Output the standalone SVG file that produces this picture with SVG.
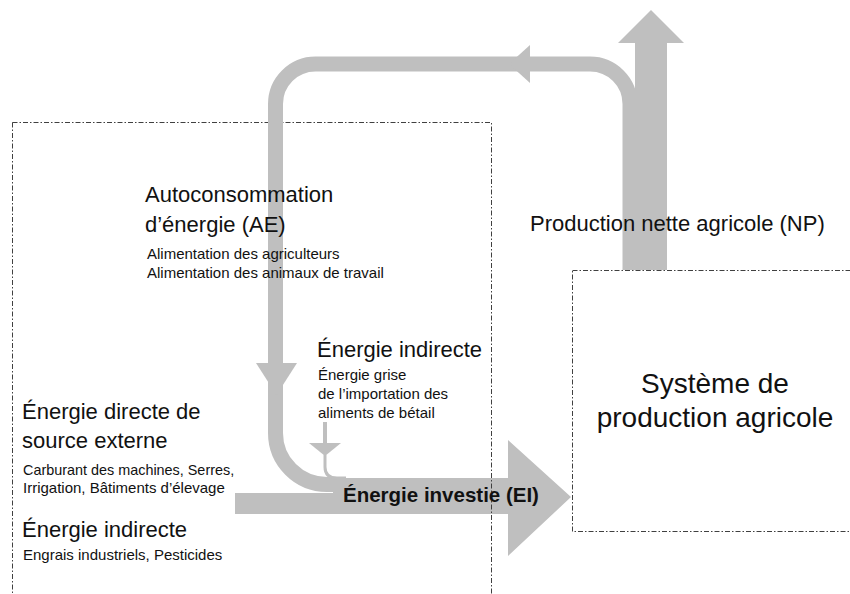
<svg xmlns="http://www.w3.org/2000/svg" width="850" height="594" viewBox="0 0 850 594">
<style>
.bg{fill:#fff}
.flow{fill:#bfbfbf}
.band{fill:none;stroke:#bfbfbf;stroke-width:15}
.thin{fill:none;stroke:#bfbfbf;stroke-width:3}
.box{fill:none;stroke:#404040;stroke-width:1;stroke-dasharray:5 2 1.5 2}
text{font-family:"Liberation Sans",Arial,sans-serif;fill:#111}
.t1{font-size:22px}
.t2{font-size:15px}
.t2n{font-size:14.4px}
.t3{font-size:28px}
.tb{font-size:20.5px;font-weight:bold}
</style>
<rect class="bg" x="0" y="0" width="850" height="594"/>
<g id="connectors">
  <path id="main-arrow" class="flow" d="M235,493 H333 V478 H508 V440 L571,497 L508,556 V514 H235 Z"/>
</g>
<g id="boxes">
  <rect id="farm-boundary" class="box" x="12.5" y="122.5" width="479" height="500"/>
  <rect id="systeme-box" class="box" x="572.5" y="270.5" width="300" height="261"/>
</g>
<g id="connectors-loop">
  <path id="loop" class="band" d="M630,270 V104 A40,40 0 0 0 590,64 H315.5 A40,40 0 0 0 275.5,104 V433 A51.5,51.5 0 0 0 327,484.5 H340"/>
  <polygon class="flow" points="530,45 530,83 509,64"/>
  <polygon class="flow" points="256,363 297,363 276.5,395"/>
  <path id="np-arrow" class="flow" d="M635,270 V43 H618 L651,10 L684,43 H667 V270 Z"/>
  <rect class="flow" x="323" y="422" width="4" height="22"/>
  <polygon class="flow" points="309,443 341,443 325,456"/>
  <path class="thin" d="M325,455 V467 Q325,478 337,478 H346"/>
</g>
<g id="node-ae">
  <text class="t1" x="145" y="202">Autoconsommation</text>
  <text class="t1" x="145" y="232">d’énergie (AE)</text>
  <text class="t2" x="147" y="259">Alimentation des agriculteurs</text>
  <text class="t2" x="147" y="278">Alimentation des animaux de travail</text>
</g>
<g id="node-np">
  <text class="t1" x="530" y="231">Production nette agricole (NP)</text>
</g>
<g id="node-indirect-feed">
  <text class="t1" x="317" y="357">Énergie indirecte</text>
  <text class="t2" x="318" y="380">Énergie grise</text>
  <text class="t2" x="318" y="399">de l’importation des</text>
  <text class="t2" x="318" y="418">aliments de bétail</text>
</g>
<g id="node-direct">
  <text class="t1" x="22" y="419">Énergie directe de</text>
  <text class="t1" x="22" y="448">source externe</text>
  <text class="t2n" x="23" y="475">Carburant des machines, Serres,</text>
  <text class="t2" x="23" y="493">Irrigation, Bâtiments d’élevage</text>
</g>
<g id="node-indirect">
  <text class="t1" x="22" y="537">Énergie indirecte</text>
  <text class="t2" x="23" y="560">Engrais industriels, Pesticides</text>
</g>
<g id="node-ei">
  <text class="tb" x="343" y="502">Énergie investie (EI)</text>
</g>
<g id="node-systeme">
  <text class="t3" x="715" y="393" text-anchor="middle">Système de</text>
  <text class="t3" x="715" y="427" text-anchor="middle">production agricole</text>
</g>
</svg>
